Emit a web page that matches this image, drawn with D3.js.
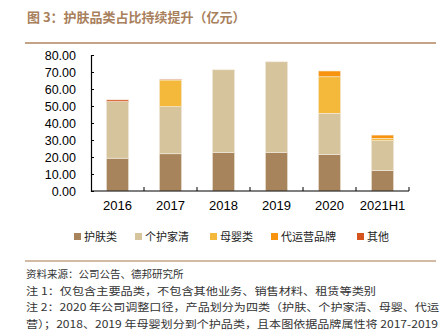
<!DOCTYPE html>
<html><head><meta charset="utf-8">
<script src="https://cdn.jsdelivr.net/npm/d3@7"></script>
<style>body{margin:0;background:#fff}svg{display:block}</style>
</head><body><svg id="c" width="444" height="331"></svg>
<script>
const categories = ["2016","2017","2018","2019","2020","2021H1"];
const seriesNames = ["护肤类","个护家清","母婴类","代运营品牌","其他"];
const skincare = [19.3, 21.9, 22.6, 22.6, 21.5, 12.0];
const personalHome = [33.3, 27.7, 48.7, 53.4, 24.2, 17.6];
const baby = [0, 15.7, 0, 0, 21.5, 1.4];
const agency = [0, 0, 0, 0, 3.4, 1.9];
const other = [1.0, 0.5, 0, 0, 0, 0];
const yTicks = [0,10,20,30,40,50,60,70,80];
const colors = ["#a8845d","#d5c49c","#f4b93a","#f7930f","#d5541d"];
const title = "图 3：护肤品类占比持续提升（亿元）";
const notes = [
 "资料来源：公司公告、德邦研究所",
 "注 1：仅包含主要品类，不包含其他业务、销售材料、租赁等类别",
 "注 2：2020 年公司调整口径，产品划分为四类（护肤、个护家清、母婴、代运",
 "营）；2018、2019 年母婴划分到个护品类，且本图依据品牌属性将 2017-2019"
];
const noteWidths = [null, 350, 413, 412];

const svg = d3.select("#c");
const allSeries = [skincare, personalHome, baby, agency, other];
const rows = categories.map((c,i)=>{const o={cat:c}; seriesNames.forEach((s,j)=>o[s]=allSeries[j][i]); return o;});
const stack = d3.stack().keys(seriesNames)(rows);

const x = d3.scaleBand().domain(categories).range([91,409]).paddingInner(0.58).paddingOuter(0.29);
const y = d3.scaleLinear().domain([0,80]).range([191,55]);

// title
svg.append("text").attr("x",27).attr("y",22).text(title)
  .attr("font-family","Noto Sans CJK SC").attr("font-size",13).attr("font-weight","bold").attr("fill","#a8805c");
svg.append("line").attr("x1",25).attr("x2",436).attr("y1",43).attr("y2",43).attr("stroke","#c4a386").attr("stroke-width",2);

// bars
svg.append("g").selectAll("g").data(stack).join("g")
  .attr("fill",(d,i)=>colors[i])
  .selectAll("rect").data(d=>d.filter(p=>p[1]-p[0]>0)).join("rect")
  .attr("x",d=>x(d.data.cat)).attr("width",x.bandwidth())
  .attr("y",d=>y(d[1])).attr("height",d=>y(d[0])-y(d[1]))
  .attr("stroke","#f3ece0").attr("stroke-width",0.6);

// y axis
const ya = svg.append("g").attr("transform","translate(91,0)")
  .call(d3.axisLeft(y).tickValues(yTicks).tickFormat(d3.format(".2f")).tickSize(-3).tickPadding(15));
ya.select(".domain").attr("stroke","#000").attr("stroke-width",1.2);
ya.selectAll("line").attr("stroke","#000");
ya.selectAll("text").attr("font-family","Liberation Sans, Arial").attr("font-size",12.5).attr("fill","#000");

// x axis
const xa = svg.append("g").attr("transform","translate(0,191)")
  .call(d3.axisBottom(x).tickSize(0).tickPadding(10));
xa.select(".domain").attr("stroke","#000").attr("stroke-width",1.2).attr("d","M91,0H409");
xa.selectAll("text").attr("font-family","Liberation Sans, Arial").attr("font-size",13).attr("fill","#000");
const bounds = categories.map((c,i)=>x(c)-x.step()*x.paddingInner()/2).slice(1).concat([409]);
xa.selectAll(".bt").data(bounds).join("line").attr("class","bt")
  .attr("x1",d=>d).attr("x2",d=>d).attr("y1",0).attr("y2",-4).attr("stroke","#000");

// legend
const legX = [74,135,210,271,357];
const lg = svg.append("g").selectAll("g").data(seriesNames).join("g")
  .attr("transform",(d,i)=>`translate(${legX[i]},237)`);
lg.append("rect").attr("x",0).attr("y",-4).attr("width",7).attr("height",7).attr("fill",(d,i)=>colors[i]);
lg.append("text").attr("x",10).attr("y",4).text(d=>d)
  .attr("font-family","Noto Sans CJK SC").attr("font-size",11).attr("fill","#222");

// bottom notes
svg.append("line").attr("x1",25).attr("x2",436).attr("y1",261).attr("y2",261).attr("stroke","#c4a386").attr("stroke-width",1.5);
const nt = svg.append("g").selectAll("text").data(notes).join("text")
  .attr("x",26).attr("y",(d,i)=>278+i*16.5).text(d=>d)
  .attr("font-family","Noto Sans CJK SC").attr("font-size",10.5).attr("fill","#333");
nt.each(function(d,i){ if(noteWidths[i]) d3.select(this).attr("textLength",noteWidths[i]).attr("lengthAdjust","spacingAndGlyphs"); });
</script></body></html>
